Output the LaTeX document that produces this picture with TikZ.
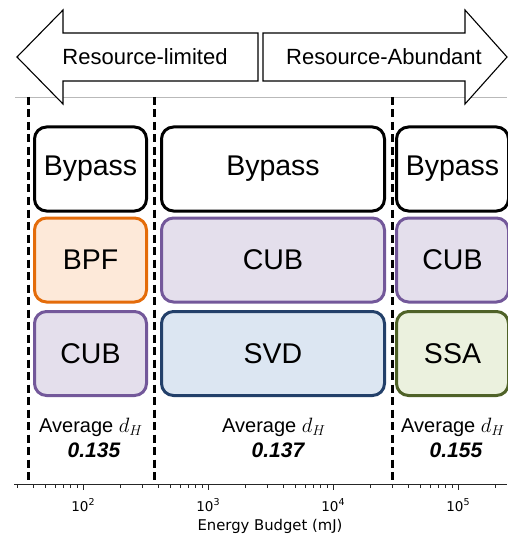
\documentclass[tikz,border=0pt]{standalone}
\usepackage{fontspec}
\setmainfont{Liberation Sans}
\newfontfamily\axisfont{DejaVu Sans}
\definecolor{bpfline}{HTML}{E46C0A}
\definecolor{bpffill}{HTML}{FDE9D9}
\definecolor{cubline}{HTML}{73589A}
\definecolor{cubfill}{HTML}{E4DFEC}
\definecolor{svdline}{HTML}{23406A}
\definecolor{svdfill}{HTML}{DCE6F2}
\definecolor{ssaline}{HTML}{4F6228}
\definecolor{ssafill}{HTML}{EBF1DE}
\begin{document}
\begin{tikzpicture}[x=1pt, y=-1pt,
box/.style = {draw, line width=3pt, rounded corners=12pt,
	minimum height=84pt, inner sep=0pt,
	font=\fontsize{28.5}{30}\selectfont},
narrow/.style = {box, minimum width=112pt},
wide/.style = {box, minimum width=223pt},
bypass/.style = {draw=black, fill=white},
bpf/.style = {draw=bpfline, fill=bpffill},
cub/.style = {draw=cubline, fill=cubfill},
svd/.style = {draw=svdline, fill=svdfill},
ssa/.style = {draw=ssaline, fill=ssafill},
avg/.style = {font=\fontsize{20}{22}\selectfont},
score/.style = {font=\fontsize{21}{23}\selectfont\bfseries\itshape},
split/.style = {line width=3pt, dash pattern=on 8pt off 4.5pt},
shaft/.style = {draw=black, line width=1.1pt, fill=white, line join=miter},
ticklab/.style = {font=\axisfont\fontsize{13.5}{15}\selectfont}]
\useasboundingbox (0,0) rectangle (507,537);

% frame and regime arrows
\draw [gray!55, line width=0.8pt] (15,97) -- (507,97);
\draw [shaft] (17,57) -- (63,10) -- (63,33) -- (258,33) -- (258,81)
	-- (63,81) -- (63,104) -- cycle;
\draw [shaft] (263,33) -- (465,33) -- (465,10) -- (507,57) -- (465,104)
	-- (465,81) -- (263,81) -- cycle;
\node (limited) at (145,57) [font=\fontsize{22}{24}\selectfont] {Resource-limited};
\node (abundant) at (384,57) [font=\fontsize{22}{24}\selectfont] {Resource-Abundant};

% regime borders
\foreach \xs in {28,154,392}
	\draw [split] (\xs,97) -- (\xs,484);

% pipelines
\node (bypassA) at (90.5,169) [narrow, bypass] {Bypass};
\node (bpfA) at (90.5,260) [narrow, bpf] {BPF};
\node (cubA) at (90.5,353.5) [narrow, cub] {CUB};
\node (bypassB) at (273,169) [wide, bypass] {Bypass};
\node (cubB) at (273,260) [wide, cub] {CUB};
\node (svdB) at (273,353.5) [wide, svd] {SVD};
\node (bypassC) at (452.5,169) [narrow, bypass] {Bypass};
\node (cubC) at (452.5,260) [narrow, cub] {CUB};
\node (ssaC) at (452.5,353.5) [narrow, ssa] {SSA};

% average distances
\node (avgA) at (91,427) [avg] {Average $d_H$};
\node (scoreA) at (94,450) [score] {0.135};
\node (avgB) at (274,427) [avg] {Average $d_H$};
\node (scoreB) at (278,450) [score] {0.137};
\node (avgC) at (453,427) [avg] {Average $d_H$};
\node (scoreC) at (456,450) [score] {0.155};

% energy axis
\draw [black!85, line width=1pt] (14,484) -- (507,484);
\foreach \dec/\ex in {83/2,208/3,333/4,458/5} {
	\draw [black!85, line width=1pt] (\dec,484) -- (\dec,490);
	\node at (\dec,505) [ticklab] {10\raisebox{0.42em}{\fontsize{9.5}{10}\selectfont\ex}};
}
\foreach \dec in {-42,83,208,333,458}
	\foreach \k in {2,...,9} {
		\pgfmathsetmacro\xt{\dec+125*ln(\k)/ln(10)}
		\draw [black!85, line width=0.8pt] (\xt,484) -- (\xt,487.5);
	}
\node (budget) at (270,526) [font=\axisfont\fontsize{14.8}{16}\selectfont] {Energy Budget (mJ)};
\end{tikzpicture}
\end{document}
